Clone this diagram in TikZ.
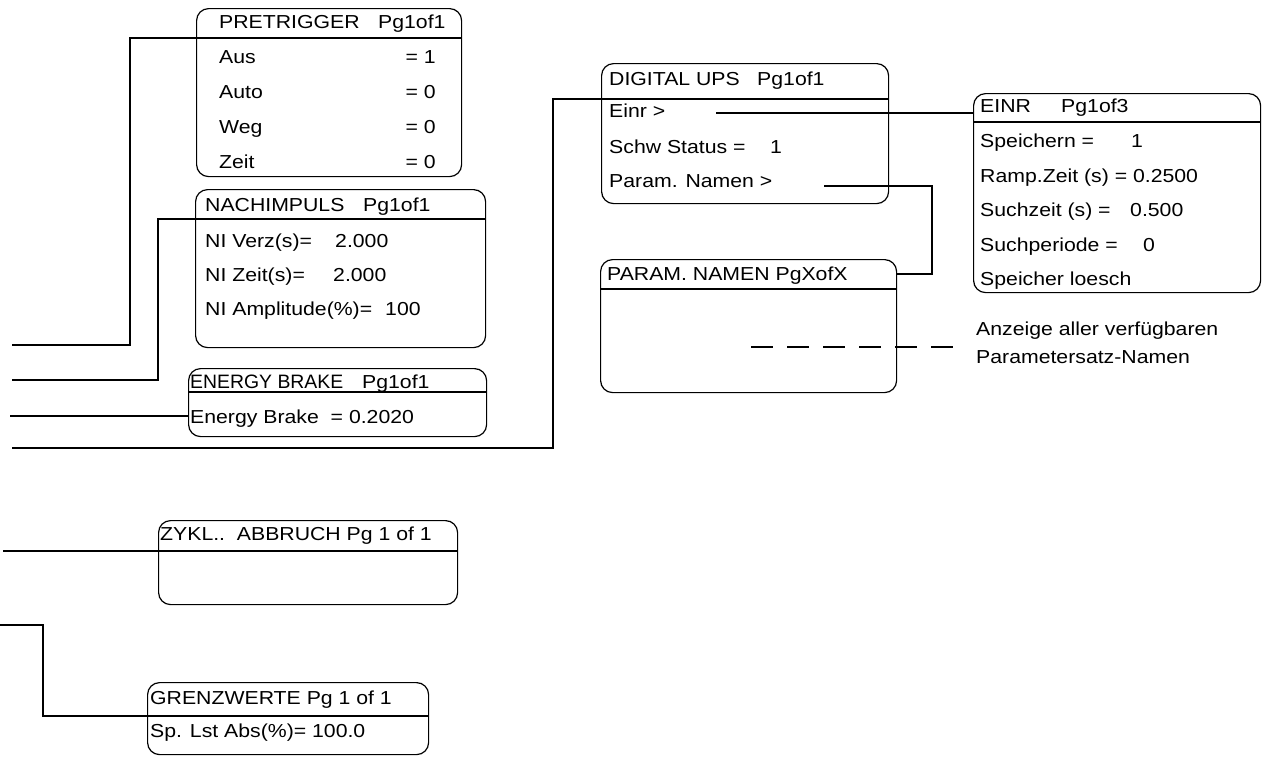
\documentclass[tikz,border=0pt]{standalone}
\usepackage{fontspec}
\setmainfont{Liberation Sans}[FakeStretch=1.13]
\newfontfamily\plainsans{Liberation Sans}
\begin{document}
\begin{tikzpicture}[x=1pt,y=-1pt,
  box/.style={draw,line width=1.2pt,rounded corners=12pt,anchor=north west,inner sep=0pt},
  hdr/.style={line width=2pt},
  conn/.style={line width=2pt},
  txt/.style={anchor=base west,inner sep=0pt,font=\fontsize{18.8}{22}\selectfont},
  txe/.style={anchor=base east,inner sep=0pt,font=\fontsize{18.8}{22}\selectfont}]
\useasboundingbox (0,0) rectangle (1263,756);
% boxes
\node[box,minimum width=265,minimum height=168] (pre) at (196,8) {};
\node[box,minimum width=290,minimum height=158] (nach) at (195,189) {};
\node[box,minimum width=298,minimum height=68] (ener) at (188,368) {};
\node[box,minimum width=287,minimum height=140] (dig) at (601,63) {};
\node[box,minimum width=287,minimum height=199] (einr) at (973,93) {};
\node[box,minimum width=296,minimum height=133] (param) at (600,259) {};
\node[box,minimum width=299,minimum height=84] (zykl) at (158,520) {};
\node[box,minimum width=281,minimum height=72] (grenz) at (147,682) {};
% header lines
\draw[hdr] (pre.west |- 0,38) -- (pre.east |- 0,38);
\draw[hdr] (nach.west |- 0,219) -- (nach.east |- 0,219);
\draw[hdr] (ener.west |- 0,392) -- (ener.east |- 0,392);
\draw[hdr] (dig.west |- 0,99) -- (dig.east |- 0,99);
\draw[hdr] (einr.west |- 0,122) -- (einr.east |- 0,122);
\draw[hdr] (param.west |- 0,289) -- (param.east |- 0,289);
\draw[hdr] (zykl.west |- 0,551) -- (zykl.east |- 0,551);
\draw[hdr] (grenz.west |- 0,716) -- (grenz.east |- 0,716);
% texts PRETRIGGER
\node[txt] (preT) at (219,28) {PRETRIGGER};
\node[txt] (preP) at (378,28) {Pg1of1};
\node[txt] (pre1) at (219,63) {Aus};
\node[txe] (pre1v) at (436,63) {= 1};
\node[txt] (pre2) at (219,98) {Auto};
\node[txe] (pre2v) at (436,98) {= 0};
\node[txt] (pre3) at (219,133) {Weg};
\node[txe] (pre3v) at (436,133) {= 0};
\node[txt] (pre4) at (219,168) {Zeit};
\node[txe] (pre4v) at (436,168) {= 0};
% NACHIMPULS
\node[txt] (nachT) at (205,211) {NACHIMPULS};
\node[txt] (nachP) at (363,211) {Pg1of1};
\node[txt] (nach1) at (205,247) {NI Verz(s)=};
\node[txt] (nach1v) at (335,247) {2.000};
\node[txt] (nach2) at (205,281) {NI Zeit(s)=};
\node[txt] (nach2v) at (333,281) {2.000};
\node[txt] (nach3) at (205,315) {NI Amplitude(\%)=};
\node[txt] (nach3v) at (385,315) {100};
% ENERGY BRAKE
\node[txt,font=\plainsans\fontsize{19.4}{22}\selectfont] (enerT) at (190,388) {ENERGY BRAKE};
\node[txt] (enerP) at (362,388) {Pg1of1};
\node[txt] (ener1) at (190,423) {Energy Brake\ \ = 0.2020};
% DIGITAL UPS
\node[txt] (digT) at (609,85) {DIGITAL UPS};
\node[txt] (digP) at (757,85) {Pg1of1};
\node[txt] (dig1) at (609,117) {Einr >};
\node[txt] (dig2) at (609,153) {Schw Status =};
\node[txt] (dig2v) at (770,153) {1};
\node[txt] (dig3) at (609,187) {Param. Namen >};
% EINR
\node[txt] (einrT) at (980,112) {EINR};
\node[txt] (einrP) at (1061,112) {Pg1of3};
\node[txt] (einr1) at (980,147) {Speichern =};
\node[txt] (einr1v) at (1131,147) {1};
\node[txt] (einr2) at (980,182) {Ramp.Zeit (s) = 0.2500};
\node[txt] (einr3) at (980,216) {Suchzeit (s) =};
\node[txt] (einr3v) at (1130,216) {0.500};
\node[txt] (einr4) at (980,251) {Suchperiode =};
\node[txt] (einr4v) at (1143,251) {0};
\node[txt] (einr5) at (980,285) {Speicher loesch};
% PARAM
\node[txt] (paramT) at (607,280) {PARAM. NAMEN PgXofX};
% annotation
\node[txt] (ann1) at (976,335) {Anzeige aller verfügbaren};
\node[txt] (ann2) at (976,363) {Parametersatz-Namen};
% ZYKL
\node[txt] (zyklT) at (160,540) {ZYKL..\ \ ABBRUCH Pg 1 of 1};
% GRENZWERTE
\node[txt] (grenzT) at (150,704) {GRENZWERTE Pg 1 of 1};
\node[txt] (grenz1) at (150,737) {Sp. Lst Abs(\%)= 100.0};
% connectors
\coordinate (s1) at (12,345);
\coordinate (s2) at (12,380);
\coordinate (s3) at (10,416);
\coordinate (s4) at (12,448);
\coordinate (s5) at (3,551);
\coordinate (s6) at (0,625);
\coordinate (s7) at (716,113);
\coordinate (s8) at (824,186);
\coordinate (d1) at (751,347);
\coordinate (d2) at (967,347);
\draw[conn] (s1) -| (130,38) -- (pre.west |- 0,38);
\draw[conn] (s2) -| (158,219) -- (nach.west |- 0,219);
\draw[conn] (s3) -- (ener.west |- 0,416);
\draw[conn] (s4) -| (553,99) -- (dig.west |- 0,99);
\draw[conn] (s5) -- (zykl.west |- 0,551);
\draw[conn] (s6) -| (43,716) -- (grenz.west |- 0,716);
\draw[conn] (s7) -- (einr.west |- 0,113);
\draw[conn] (s8) -| (932,274) -- (param.east |- 0,274);
\draw[line width=1.6pt,dash pattern=on 22pt off 14pt] (d1) -- (d2);
\end{tikzpicture}
\end{document}
